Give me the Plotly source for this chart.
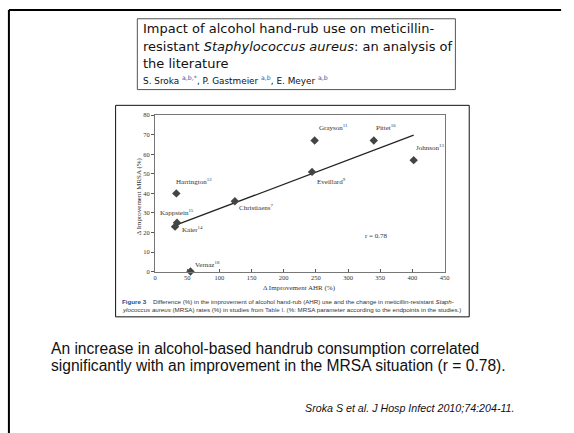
import numpy as np
import plotly.graph_objects as go

# Studies: improvement in alcohol hand-rub use vs. change in MRSA rates
studies = ["Harrington", "Kappstein", "Kaier", "Christiaens", "Eveillard",
           "Grayson", "Pittet", "Johnson", "Vernaz"]
refs = ["12", "15", "14", "7", "9", "11", "16", "13", "18"]
ahr_improvement = [33, 34, 31, 124, 244, 248, 340, 402, 55]
mrsa_improvement = [40, 25, 23, 36, 51, 67, 67, 57, 0]
correlation_r = 0.78

x_ticks = [0, 50, 100, 150, 200, 250, 300, 350, 400, 450]
y_ticks = [0, 10, 20, 30, 40, 50, 60, 70, 80]

# label placement per study: (xanchor, xshift, yshift)
label_style = {
    "Harrington": ("left", -2, 12),
    "Kappstein": ("center", 0, 10),
    "Kaier": ("left", 5, -3),
    "Christiaens": ("left", 2, -6),
    "Eveillard": ("left", 3, -10),
    "Grayson": ("left", 2, 13),
    "Pittet": ("left", 0, 13),
    "Johnson": ("left", 0, 13),
    "Vernaz": ("left", 3, 7),
}

W, H = 574, 433


def PX(x):
    return x / W


def PY(y):
    return 1 - y / H


SERIF = "Liberation Serif, Times New Roman, serif"
SANS = "Liberation Sans, Arial, sans-serif"
TITLE_FONT = "DejaVu Sans, Verdana, sans-serif"
CAPTION_FONT = "Liberation Sans Narrow, Liberation Sans, Arial, sans-serif"

# least-squares trend line over the range of the data
slope, intercept = np.polyfit(ahr_improvement, mrsa_improvement, 1)
fit_x = np.array([min(ahr_improvement), max(ahr_improvement)])
fit_y = slope * fit_x + intercept

fig = go.Figure()
fig.add_trace(go.Scatter(x=fit_x, y=fit_y, mode="lines",
                         line=dict(color="#222222", width=1.2),
                         hoverinfo="skip", showlegend=False))
fig.add_trace(go.Scatter(x=ahr_improvement, y=mrsa_improvement, mode="markers",
                         marker=dict(symbol="diamond", size=6.5, color="#444444"),
                         cliponaxis=False, showlegend=False))

annotations = []
for name, ref, xv, yv in zip(studies, refs, ahr_improvement, mrsa_improvement):
    anchor, dx, dy = label_style[name]
    annotations.append(dict(
        x=xv, y=yv, xref="x", yref="y", showarrow=False,
        text=f"{name}<sup>{ref}</sup>", xanchor=anchor, yanchor="middle",
        xshift=dx, yshift=dy,
        font=dict(family=SERIF, size=7, color="#333333")))

annotations.append(dict(x=345, y=18, xref="x", yref="y", showarrow=False,
                        text=f"r = {correlation_r}", xanchor="center",
                        yanchor="middle",
                        font=dict(family=SERIF, size=7, color="#333333")))

# axis titles
annotations.append(dict(x=PX(301), y=PY(289), xref="paper", yref="paper",
                        showarrow=False, text="Δ Improvement AHR (%)",
                        xanchor="center", yanchor="middle",
                        font=dict(family=SERIF, size=7, color="#333333")))
annotations.append(dict(x=PX(139), y=PY(195), xref="paper", yref="paper",
                        showarrow=False, text="Δ Improvement MRSA (%)",
                        textangle=-90, xanchor="center", yanchor="middle",
                        font=dict(family=SERIF, size=7, color="#333333")))

# paper title block
title_lines = [
    ("Impact of alcohol hand-rub use on meticillin-", 25),
    ("resistant <i>Staphylococcus aureus</i>: an analysis of", 43),
    ("the literature", 60),
]
for txt, yy in title_lines:
    annotations.append(dict(x=PX(141), y=PY(yy), xref="paper", yref="paper",
                            showarrow=False, text=txt, xanchor="left",
                            yanchor="middle",
                            font=dict(family=TITLE_FONT, size=13, color="#111111")))
sup_c = "#3355aa"
authors = (f"S. Sroka <span style='color:{sup_c}'><sup>a,b,*</sup></span>, "
           f"P. Gastmeier <span style='color:{sup_c}'><sup>a,b</sup></span>, "
           f"E. Meyer <span style='color:{sup_c}'><sup>a,b</sup></span>")
annotations.append(dict(x=PX(141), y=PY(77), xref="paper", yref="paper",
                        showarrow=False, text=authors, xanchor="left",
                        yanchor="middle",
                        font=dict(family=TITLE_FONT, size=8.9, color="#111111")))

# figure caption
cap_blue = "#2a4a8a"
cap1 = (f"<b><span style='color:{cap_blue}'>Figure 3</span></b>"
        "&nbsp;&nbsp;&nbsp;&nbsp;Difference (%) in the improvement of alcohol hand-rub (AHR) "
        "use and the change in meticillin-resistant <i>Staph-</i>")
cap2 = ("<i>ylococcus aureus</i> (MRSA) rates (%) in studies from "
        f"<span style='color:{cap_blue}'>Table I</span>. (%: MRSA parameter according "
        "to the endpoints in the studies.)")
for txt, yy in [(cap1, 302.5), (cap2, 310.5)]:
    annotations.append(dict(x=PX(119), y=PY(yy), xref="paper", yref="paper",
                            showarrow=False, text=txt, xanchor="left",
                            yanchor="middle",
                            font=dict(family=CAPTION_FONT, size=6.2, color="#333333")))

# slide text
body = [
    ("An increase in alcohol-based handrub consumption correlated", 350),
    ("significantly with an improvement in the MRSA situation (r = 0.78).", 367),
]
for txt, yy in body:
    annotations.append(dict(x=PX(48), y=PY(yy), xref="paper", yref="paper",
                            showarrow=False, text=txt, xanchor="left",
                            yanchor="middle",
                            font=dict(family=SANS, size=15.6, color="#111111")))
annotations.append(dict(x=PX(521), y=PY(411), xref="paper", yref="paper",
                        showarrow=False,
                        text="<i>Sroka S et al. J Hosp Infect 2010;74:204-11.</i>",
                        xanchor="right", yanchor="middle",
                        font=dict(family=SANS, size=10.7, color="#111111")))

shapes = [
    # slide frame: top and left rules
    dict(type="line", xref="paper", yref="paper", x0=PX(7), x1=PX(566),
         y0=PY(6), y1=PY(6), line=dict(color="#000000", width=2)),
    dict(type="line", xref="paper", yref="paper", x0=PX(7), x1=PX(7),
         y0=PY(6), y1=-0.02, line=dict(color="#000000", width=2)),
    # title box
    dict(type="rect", xref="paper", yref="paper", x0=PX(137), x1=PX(459),
         y0=PY(87), y1=PY(15), line=dict(color="#555555", width=1)),
    # figure box
    dict(type="rect", xref="paper", yref="paper", x0=PX(115), x1=PX(473),
         y0=PY(318), y1=PY(103), line=dict(color="#111111", width=1)),
]

axis_font = dict(family=SERIF, size=6.5, color="#333333")
fig.update_layout(
    width=W, height=H,
    margin=dict(l=0, r=0, t=0, b=0),
    paper_bgcolor="white", plot_bgcolor="white",
    showlegend=False,
    annotations=annotations,
    shapes=shapes,
    xaxis=dict(domain=[PX(155), PX(448)], range=[0, 450], tickvals=x_ticks,
               ticks="inside", ticklen=3, tickcolor="#555555",
               showline=True, mirror=True, linecolor="#777777", linewidth=1,
               showgrid=False, zeroline=False, tickfont=axis_font),
    yaxis=dict(domain=[PY(272), PY(113)], range=[0, 80], tickvals=y_ticks,
               ticks="outside", ticklen=3, tickcolor="#555555",
               showline=True, mirror=True, linecolor="#777777", linewidth=1,
               showgrid=False, zeroline=False, tickfont=axis_font),
)

fig.write_html("out.html")
